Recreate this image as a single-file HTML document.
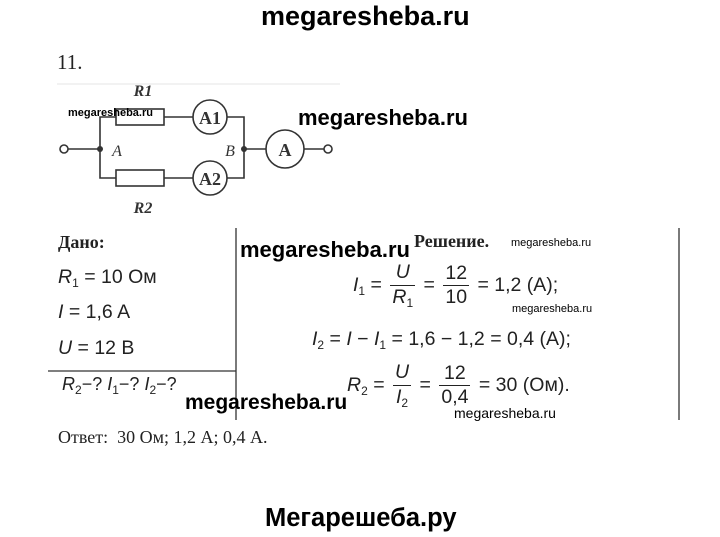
<!DOCTYPE html>
<html><head><meta charset="utf-8"><style>
body{margin:0;width:720px;height:537px;background:#fff;position:relative;overflow:hidden;font-family:"Liberation Serif",serif;color:#222}
.a{position:absolute;white-space:nowrap;line-height:1}
.wm{font-family:"Liberation Sans",sans-serif;font-weight:bold;color:#000}
.m{font-family:"Liberation Sans",sans-serif;font-size:19.5px;color:#222}
i{font-style:italic}
sub{font-size:12px;vertical-align:-4px}
.fr{display:inline-block;vertical-align:middle;text-align:center;margin:0 3px}
.fr span{display:block;padding:0 2px}
.fr span:first-child{border-bottom:1.5px solid #222;padding-bottom:2px}
.fr span:last-child{padding-top:2px}
</style></head><body>
<div class="a wm" style="left:261px;top:3px;font-size:27px">megaresheba.ru</div>
<div class="a" style="left:57px;top:52px;font-size:21px">11.</div>
<svg class="a" style="left:0;top:0" width="720" height="537">
<line x1="57" y1="84" x2="340" y2="84" stroke="#e6e6e6"/>
<g stroke="#333" stroke-width="1.6" fill="#fff">
<line x1="68" y1="149" x2="100" y2="149"/>
<polyline points="116,117 100,117 100,178 116,178" fill="none"/>
<line x1="164" y1="117" x2="193" y2="117"/><line x1="164" y1="178" x2="193" y2="178"/>
<polyline points="227,117 244,117 244,178 227,178" fill="none"/>
<line x1="244" y1="149" x2="266" y2="149"/><line x1="304" y1="149" x2="324" y2="149"/>
<rect x="116" y="109" width="48" height="16"/><rect x="116" y="170" width="48" height="16"/>
<circle cx="210" cy="117" r="17"/><circle cx="210" cy="178" r="17"/><circle cx="285" cy="149" r="19"/>
<circle cx="64" cy="149" r="4"/><circle cx="328" cy="149" r="4"/>
</g>
<circle cx="100" cy="149" r="3" fill="#333"/><circle cx="244" cy="149" r="3" fill="#333"/>
<g font-family="Liberation Serif" font-size="18" fill="#333" text-anchor="middle">
<text x="210" y="124" font-weight="bold">A1</text><text x="210" y="185" font-weight="bold">A2</text><text x="285" y="156" font-weight="bold">A</text>
<text x="143" y="96" font-style="italic" font-weight="bold" font-size="16">R1</text>
<text x="143" y="213" font-style="italic" font-weight="bold" font-size="16">R2</text>
<text x="117" y="156" font-style="italic" font-size="16">A</text>
<text x="230" y="156" font-style="italic" font-size="16">B</text>
</g>
<g stroke="#333" stroke-width="1.3">
<line x1="236" y1="228" x2="236" y2="420"/><line x1="679" y1="228" x2="679" y2="420"/>
<line x1="48" y1="371" x2="236" y2="371"/>
</g>
</svg>
<div class="a wm" style="left:68px;top:108px;font-size:11px">megaresheba.ru</div>
<div class="a wm" style="left:298px;top:107px;font-size:22px">megaresheba.ru</div>
<div class="a" style="left:58px;top:233px;font-size:18px;font-weight:bold">Дано:</div>
<div class="a m" style="left:58px;top:268px"><i>R</i><sub>1</sub> = 10 Ом</div>
<div class="a m" style="left:58px;top:303px"><i>I</i> = 1,6 A</div>
<div class="a m" style="left:58px;top:339px"><i>U</i> = 12 В</div>
<div class="a m" style="left:62px;top:375px;font-size:18px"><i>R</i><sub>2</sub>−? <i>I</i><sub>1</sub>−? <i>I</i><sub>2</sub>−?</div>
<div class="a" style="left:58px;top:428px;font-size:18px">Ответ:&nbsp; 30 Ом; 1,2 А; 0,4 А.</div>
<div class="a wm" style="left:240px;top:239px;font-size:22px">megaresheba.ru</div>
<div class="a" style="left:414px;top:232px;font-size:18px;font-weight:bold">Решение.</div>
<div class="a wm" style="left:511px;top:238px;font-size:11px;font-weight:normal">megaresheba.ru</div>
<div class="a m" style="left:353px;top:263px"><i>I</i><sub>1</sub> = <span class="fr"><span><i>U</i></span><span><i>R</i><sub>1</sub></span></span> = <span class="fr"><span>12</span><span>10</span></span> = 1,2 (A);</div>
<div class="a wm" style="left:512px;top:304px;font-size:11px;font-weight:normal">megaresheba.ru</div>
<div class="a m" style="left:312px;top:330px"><i>I</i><sub>2</sub> = <i>I</i> − <i>I</i><sub>1</sub> = 1,6 − 1,2 = 0,4 (A);</div>
<div class="a m" style="left:347px;top:363px"><i>R</i><sub>2</sub> = <span class="fr"><span><i>U</i></span><span><i>I</i><sub>2</sub></span></span> = <span class="fr"><span>12</span><span>0,4</span></span> = 30 (Ом).</div>
<div class="a wm" style="left:185px;top:392px;font-size:21px">megaresheba.ru</div>
<div class="a wm" style="left:454px;top:406px;font-size:14px;font-weight:normal">megaresheba.ru</div>
<div class="a wm" style="left:265px;top:506px;font-size:25.5px">Мегарешеба.ру</div>
</body></html>
